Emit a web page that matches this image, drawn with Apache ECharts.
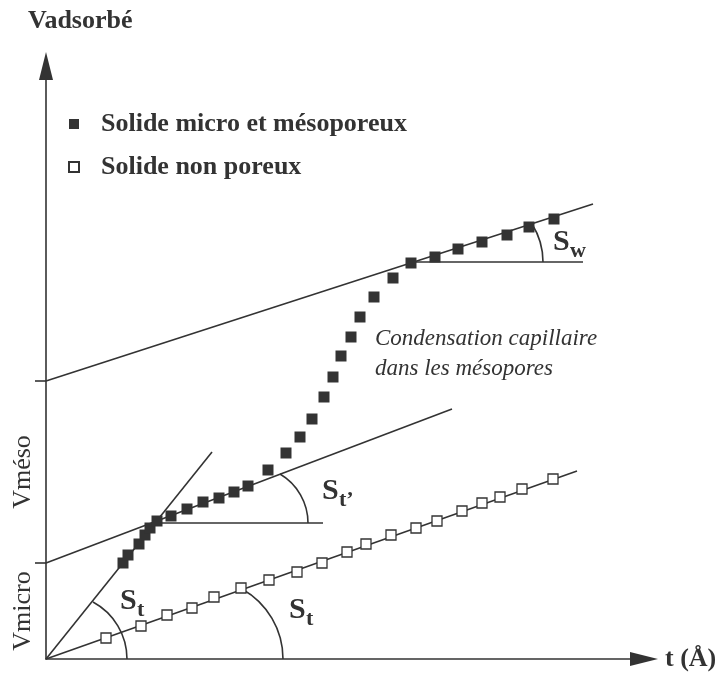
<!DOCTYPE html>
<html>
<head>
<meta charset="utf-8">
<script src="https://cdn.jsdelivr.net/npm/echarts@6/dist/echarts.min.js"></script>
<style>
  html, body { margin: 0; padding: 0; background: #ffffff; }
  #chart { width: 719px; height: 673px; }
</style>
</head>
<body>
<div id="chart"></div>
<script>
// t-plot: adsorbed volume against statistical film thickness t

// Micro- and mesoporous solid (filled squares): [t, Vads]
const poreuxT = [77, 82, 93, 99, 104, 111, 125, 141, 157, 173, 188, 202, 222, 240, 254, 266,
                 278, 287, 295, 305, 314, 328, 347, 365, 389, 412, 436, 461, 483, 508];
const poreuxV = [96, 104, 115, 124, 131, 138, 143, 150, 157, 161, 167, 173, 189, 206, 222, 240,
                 262, 282, 303, 322, 342, 362, 381, 396, 402, 410, 417, 424, 432, 440];

// Non-porous reference solid (open squares): [t, Vads]
const nonPoreuxT = [60, 95, 121, 146, 168, 195, 223, 251, 276, 301, 320, 345, 370, 391, 416, 436, 454, 476, 507];
const nonPoreuxV = [21, 33, 44, 51, 62, 71, 79, 87, 96, 107, 115, 124, 131, 138, 148, 156, 162, 170, 180];

// Straight-line fits and horizontal references (end points)
const fitNonPoreux = [[0, 0], [531, 188]];
const fitMicro     = [[0, 0], [166, 207]];
const fitMeso      = [[0, 96], [406, 250]];
const fitExterne   = [[0, 278], [547, 455]];
const baseMeso     = [[111, 136], [277, 136]];
const baseExterne  = [[365, 397], [537, 397]];

// Volume steps marked on the ordinate
const volumeTicks = [96, 278];
const volumeLabelValues = [48, 187];
const volumeLabelTexts = ['Vmicro', 'Vméso'];

// Angle arcs: point on the sloped line, point on the horizontal
const angleArcs = [
  [47, 57, 81, 0],
  [196, 70, 237, 0],
  [234, 185, 262, 136],
  [486, 435, 497, 397]
];

// Slope labels (S + subscript), anchored at the left-middle of the S
const slopeLabelPos = [[74, 58], [243, 49], [276, 168], [507, 417]];
const slopeLabelSub = ['t', 't', 't\u2019', 'w'];

const INK = '#333333';
const SERIF = '"Liberation Serif", "Times New Roman", Times, serif';

const nameA = 'Solide micro et mésoporeux';
const nameB = 'Solide non poreux';

const zip = (xs, ys) => xs.map((x, i) => [x, ys[i]]);

function fitLine(data) {
  return {
    type: 'line', data: data, symbol: 'none', silent: true, z: 2,
    lineStyle: { color: INK, width: 1.6 }
  };
}

const chart = echarts.init(document.getElementById('chart'), null, { renderer: 'canvas' });

chart.setOption({
  animation: false,
  backgroundColor: '#ffffff',
  title: {
    text: 'Vadsorbé', left: 28, top: 8, padding: 0,
    textStyle: { fontFamily: SERIF, fontSize: 26, fontWeight: 'bold', color: INK }
  },
  legend: {
    data: [nameA, nameB],
    orient: 'vertical',
    left: 63, top: 106,
    itemWidth: 10, itemHeight: 10, itemGap: 17,
    formatter: n => '{t|' + n + '}',
    textStyle: {
      color: INK,
      rich: { t: { fontFamily: SERIF, fontSize: 26, fontWeight: 'bold', color: INK, lineHeight: 26, padding: [0, 0, 0, 17] } }
    }
  },
  grid: { left: 46, right: 75, top: 66, bottom: 14, containLabel: false, outerBoundsMode: 'none' },
  xAxis: {
    type: 'value', min: 0, max: 598,
    name: 't (Å)', nameLocation: 'end', nameGap: 21,
    nameTextStyle: { fontFamily: SERIF, fontSize: 26, fontWeight: 'bold', color: INK, verticalAlign: 'middle', align: 'left' },
    axisLine: { show: true, onZero: false, symbol: ['none', 'triangle'], symbolSize: [14, 28], lineStyle: { color: INK, width: 1.6 } },
    axisTick: { show: false }, axisLabel: { show: false }, splitLine: { show: false }
  },
  yAxis: {
    type: 'value', min: 0, max: 593,
    axisLine: { show: true, onZero: false, symbol: ['none', 'triangle'], symbolSize: [14, 28], lineStyle: { color: INK, width: 1.6 } },
    axisTick: { show: true, customValues: volumeTicks, length: 11, inside: false, lineStyle: { color: INK, width: 1.6 } },
    axisLabel: {
      show: true, customValues: volumeLabelValues, rotate: 90, margin: 10,
      fontFamily: SERIF, fontSize: 26, color: INK,
      formatter: v => volumeLabelTexts[volumeLabelValues.indexOf(v)] || ''
    },
    splitLine: { show: false }
  },
  series: [
    fitLine(fitNonPoreux),
    fitLine(fitMicro),
    fitLine(fitMeso),
    fitLine(fitExterne),
    fitLine(baseMeso),
    fitLine(baseExterne),
    {
      type: 'custom', silent: true, z: 2,
      data: angleArcs,
      encode: { x: [0, 2], y: [1, 3] },
      renderItem: (params, api) => {
        const a = api.coord([api.value(0), api.value(1)]);
        const b = api.coord([api.value(2), api.value(3)]);
        // circle centred on the horizontal through b, passing through a and b
        const dy = a[1] - b[1];
        const cx = (b[0] * b[0] - a[0] * a[0] - dy * dy) / (2 * (b[0] - a[0]));
        const r = b[0] - cx;
        const start = Math.atan2(a[1] - b[1], a[0] - cx);
        return {
          type: 'arc',
          shape: { cx: cx, cy: b[1], r: r, startAngle: start, endAngle: 0, clockwise: true },
          style: { stroke: INK, fill: 'none', lineWidth: 1.6 }
        };
      }
    },
    {
      type: 'custom', silent: true, z: 4,
      data: slopeLabelPos,
      renderItem: (params, api) => {
        const p = api.coord([api.value(0), api.value(1)]);
        return {
          type: 'group',
          children: [
            { type: 'text', x: p[0], y: p[1],
              style: { text: 'S', fontFamily: SERIF, fontSize: 30, fontWeight: 'bold', fill: INK, align: 'left', verticalAlign: 'middle' } },
            { type: 'text', x: p[0] + 17, y: p[1] + 9,
              style: { text: slopeLabelSub[params.dataIndex], fontFamily: SERIF, fontSize: 22, fontWeight: 'bold', fill: INK, align: 'left', verticalAlign: 'middle' } }
          ]
        };
      }
    },
    {
      name: nameA, type: 'scatter', symbol: 'rect', symbolSize: 11, z: 3,
      itemStyle: { color: INK, opacity: 1 },
      data: zip(poreuxT, poreuxV)
    },
    {
      name: nameB, type: 'scatter', symbol: 'rect', symbolSize: 10, z: 3,
      itemStyle: { color: '#ffffff', borderColor: INK, borderWidth: 1.3, opacity: 1 },
      data: zip(nonPoreuxT, nonPoreuxV)
    }
  ],
  graphic: [
    {
      type: 'text', left: 375, top: 324,
      style: {
        text: 'Condensation capillaire\ndans les mésopores',
        fontFamily: SERIF, fontSize: 23, fontStyle: 'italic', lineHeight: 30, fill: INK
      }
    }
  ]
});
</script>
</body>
</html>
